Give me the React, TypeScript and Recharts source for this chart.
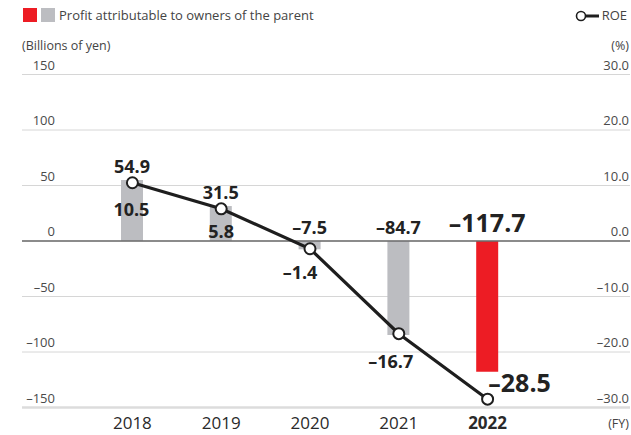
import {
  ComposedChart,
  Bar,
  Line,
  XAxis,
  YAxis,
  CartesianGrid,
  ReferenceLine,
  LabelList,
  Cell,
} from "recharts"

const years = ["2018", "2019", "2020", "2021", "2022"]
const profit = [54.9, 31.5, -7.5, -84.7, -117.7]
const roe = [10.5, 5.8, -1.4, -16.7, -28.5]
const profitTicks = [-150, -100, -50, 0, 50, 100, 150]
const roeTicks = [-30, -20, -10, 0, 10, 20, 30]

const data = years.map((year, i) => ({ year, profit: profit[i], roe: roe[i] }))

const FONT = "'Open Sans', sans-serif"
const GRAY = "#bcbdc1"
const RED = "#ed1c24"
const INK = "#1e1e1e"
const AXIS_TEXT = "#4a4a4a"

// [dx, dy] of each ROE label from its point
const roeLabelOffset = [
  [-1, 33],
  [0, 29],
  [-10, 30],
  [-8, 34],
  [32, -7],
]

const fmt = (v: number, digits = 1) => (v < 0 ? "\u2013" : "") + Math.abs(v).toFixed(digits)

function BarValue(props: any) {
  const { x, y, width, height, value } = props
  const i = profit.indexOf(Number(value))
  const last = i === profit.length - 1
  const top = Math.min(y, y + height)
  return (
    <text
      x={x + width / 2}
      y={top - (last ? 9 : 7)}
      textAnchor="middle"
      fontFamily={FONT}
      fontWeight={700}
      fontSize={last ? 25 : 18}
      fill="#222"
    >
      {fmt(Number(value))}
    </text>
  )
}

function RoeValue(props: any) {
  const { x, y, value } = props
  const i = roe.indexOf(Number(value))
  const last = i === roe.length - 1
  const [dx, dy] = roeLabelOffset[i] ?? [0, 30]
  return (
    <text
      x={x + dx}
      y={y + dy}
      textAnchor="middle"
      fontFamily={FONT}
      fontWeight={700}
      fontSize={last ? 25 : 18}
      fill="#222"
    >
      {fmt(Number(value))}
    </text>
  )
}

const LeftTick = ({ y, payload }: any) => (
  <text x={55} y={y - 5} textAnchor="end" fontFamily={FONT} fontSize={13} fill={AXIS_TEXT}>
    {fmt(payload.value, 0)}
  </text>
)

const RightTick = ({ y, payload }: any) => (
  <text x={629} y={y - 5} textAnchor="end" fontFamily={FONT} fontSize={13} fill={AXIS_TEXT}>
    {fmt(payload.value, 1)}
  </text>
)

const YearTick = ({ x, payload }: any) => (
  <text
    x={x}
    y={429}
    textAnchor="middle"
    fontFamily={FONT}
    fontSize={17}
    fontWeight={payload.value === years[years.length - 1] ? 700 : 400}
    fill="#2a2a2a"
  >
    {payload.value}
  </text>
)

const note = { position: "absolute" as const, fontFamily: FONT, color: "#444", whiteSpace: "nowrap" as const }

export default function App() {
  return (
    <div style={{ position: "absolute", left: 0, top: 0, width: 631, height: 435, background: "#fff" }}>
      <ComposedChart
        width={631}
        height={435}
        data={data}
        margin={{ top: 74.5, right: 0, bottom: 26.5, left: 21 }}
      >
        <CartesianGrid yAxisId="left" vertical={false} stroke="#d6d6d6" />
        <XAxis
          dataKey="year"
          height={1}
          axisLine={false}
          tickLine={false}
          padding={{ left: 66, right: 98 }}
          tick={YearTick}
        />
        <YAxis
          yAxisId="left"
          width={1}
          domain={[-150, 150]}
          ticks={profitTicks}
          axisLine={false}
          tickLine={false}
          tick={LeftTick}
        />
        <YAxis
          yAxisId="right"
          orientation="right"
          width={1}
          domain={[-30, 30]}
          ticks={roeTicks}
          axisLine={false}
          tickLine={false}
          tick={RightTick}
        />
        <ReferenceLine yAxisId="left" y={-150} stroke="#dcdcdc" strokeWidth={2.5} />
        <ReferenceLine yAxisId="left" y={0} stroke="#6b6b6b" strokeWidth={1.5} />
        <Bar yAxisId="left" dataKey="profit" barSize={22} isAnimationActive={false}>
          {data.map((d, i) => (
            <Cell key={d.year} fill={i === data.length - 1 ? RED : GRAY} />
          ))}
          <LabelList dataKey="profit" content={BarValue} />
        </Bar>
        <Line
          yAxisId="right"
          dataKey="roe"
          stroke={INK}
          strokeWidth={3.2}
          dot={{ r: 5.5, fill: "#fff", stroke: INK, strokeWidth: 2 }}
          activeDot={false}
          isAnimationActive={false}
        >
          <LabelList dataKey="roe" content={RoeValue} />
        </Line>
      </ComposedChart>

      <div style={{ position: "absolute", left: 23, top: 8, width: 14, height: 14, background: RED }} />
      <div style={{ position: "absolute", left: 41, top: 8, width: 14, height: 14, background: GRAY }} />
      <div style={{ ...note, left: 59, top: 5, fontSize: 13, lineHeight: "20px" }}>
        Profit attributable to owners of the parent
      </div>
      <svg style={{ position: "absolute", left: 574, top: 9 }} width={26} height={14}>
        <line x1={11} y1={7} x2={25} y2={7} stroke={INK} strokeWidth={3} />
        <circle cx={7} cy={7} r={4.5} fill="#fff" stroke={INK} strokeWidth={1.6} />
      </svg>
      <div style={{ ...note, right: 4, top: 5, fontSize: 13, lineHeight: "20px" }}>ROE</div>
      <div style={{ ...note, left: 22, top: 36, fontSize: 12.5, lineHeight: "20px" }}>(Billions of yen)</div>
      <div style={{ ...note, right: 2, top: 36, fontSize: 12.5, lineHeight: "20px" }}>(%)</div>
      <div style={{ ...note, right: 2, top: 414, fontSize: 12.5, lineHeight: "20px" }}>(FY)</div>
    </div>
  )
}
